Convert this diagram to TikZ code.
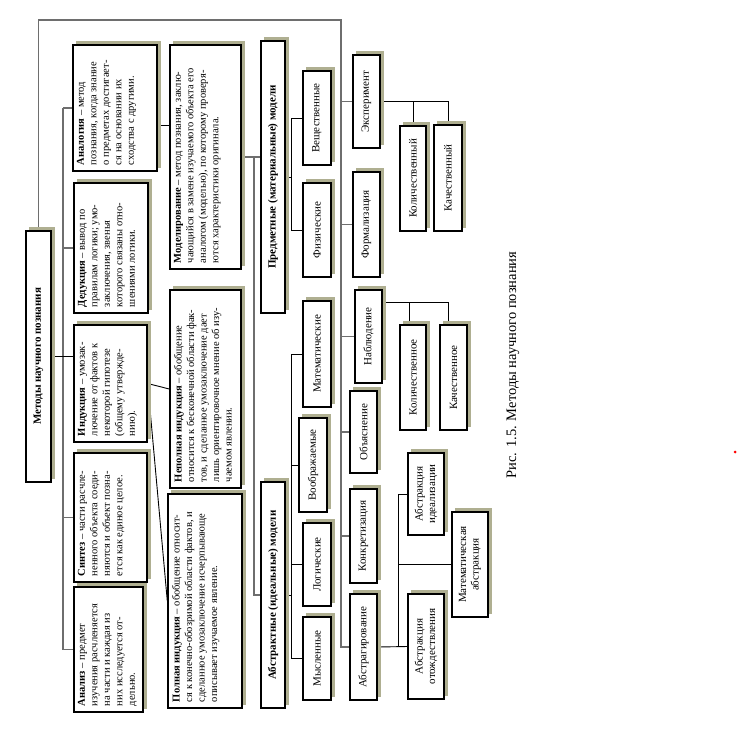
\documentclass[tikz,border=0pt]{standalone}
\usepackage{fontspec}
\setmainfont{Liberation Serif}
\usetikzlibrary{backgrounds,calc}
\definecolor{shcol}{RGB}{175,175,145}
\definecolor{lncol}{RGB}{110,110,110}
\newcommand{\bx}[3]{\parbox[c][#2pt][t]{#1pt}{\raggedright #3}}
\tikzset{
  sz/.style n args={2}{minimum width=#1pt, minimum height=#2pt},
  basebox/.style={draw, line width=1.4pt, fill=white, rotate=90},
  tbox/.style={basebox, inner xsep=6pt, inner ysep=4pt, font=\fontsize{10.5}{12.5}\selectfont},
  lbox/.style={basebox, inner sep=0pt, align=center, font=\fontsize{11}{12.5}\selectfont},
  hbox/.style={basebox, inner sep=0pt, font=\bfseries\fontsize{11}{13}\selectfont},
  conn/.style={draw=black, line width=0.9pt},
  gconn/.style={draw=lncol, line width=1.3pt},
  shadowfill/.style={fill=shcol},
}
\begin{document}
\begin{tikzpicture}[x=1pt,y=1pt]
\useasboundingbox (0,0) rectangle (741,-729);

% main
\node[hbox, sz={251}{25}] (main) at (38.5,-356.5) {Методы научного познания};

% first column
\node[tbox] (analog) at (115,-108) {\bx{114}{76}{\textbf{Аналогия} – метод\\ познания, когда знание\\ о предметах достигает-\\ ся на основании их\\ сходства с другими.}};
\node[tbox] (dedukt) at (111,-248) {\bx{118}{66}{\textbf{Дедукция} – вывод по\\ правилам логики; умо-\\ заключения, звенья\\ которого связаны отно-\\ шениями логики.}};
\node[tbox] (indukt) at (110.5,-383.5) {\bx{105}{65}{\textbf{Индукция} – умозак-\\ лючение от фактов к\\ некоторой гипотезе\\ (общему утвержде-\\ нию).}};
\node[tbox] (sintez) at (110.5,-517.5) {\bx{117}{65}{\textbf{Синтез} – части расчле-\\ ненного объекта соеди-\\ няются и объект позна-\\ ется как единое целое.}};
\node[tbox] (analiz) at (108.5,-649.5) {\bx{113}{61}{\textbf{Анализ} – предмет\\ изучения расчленяется\\ на части и каждая из\\ них исследуется от-\\ дельно.}};

% second column
\node[tbox] (model) at (205.5,-157) {\bx{212}{63}{\textbf{Моделирование} – метод познания, заклю-\\ чающийся в замене изучаемого объекта его\\ аналогом (моделью), по которому проверя-\\ ются характеристики оригинала.}};
\node[tbox] (nepoln) at (205.5,-389) {\bx{186}{63}{\textbf{Неполная индукция} – обобщение\\ относится к бесконечной области фак-\\ тов, и сделанное умозаключение дает\\ лишь ориентировочное мнение об изу-\\ чаемом явлении.}};
\node[tbox] (poln) at (205,-601) {\bx{202}{66}{\textbf{Полная индукция} – обобщение относит-\\ ся к конечно-обозримой области фактов, и\\ сделанное умозаключение исчерпывающе\\ описывает изучаемое явление.}};

% models
\node[hbox, sz={272}{24}] (pred) at (273,-177) {Предметные (материальные) модели};
\node[hbox, sz={226}{24}] (abstr) at (273,-595) {Абстрактные (идеальные) модели};

\node[lbox, sz={94}{28}] (vesch) at (317,-118) {Вещественные};
\node[lbox, sz={94}{28}] (fiz) at (317,-230) {Физические};
\node[lbox, sz={106}{28}] (matem) at (317,-354) {Математические};
\node[lbox, sz={94}{28}] (voobr) at (313,-465) {Воображаемые};
\node[lbox, sz={83}{28}] (logich) at (317,-564.5) {Логические};
\node[lbox, sz={83}{28}] (mysl) at (317,-658.5) {Мысленные};

% right column
\node[lbox, sz={93}{27}] (eksp) at (366.5,-101.5) {Эксперимент};
\node[lbox, sz={105}{27}] (formal) at (366.5,-224.5) {Формализация};
\node[lbox, sz={93}{27}] (nabl) at (368.5,-336.5) {Наблюдение};
\node[lbox, sz={82}{27}] (obyas) at (363.5,-432) {Объяснение};
\node[lbox, sz={94}{27}] (konkr) at (363.5,-536) {Конкретизация};
\node[lbox, sz={106}{27}] (abstrag) at (363.5,-647) {Абстрагирование};

\node[lbox, sz={105}{26}] (kol1) at (413,-178.5) {Количественный};
\node[lbox, sz={106}{28}] (kach1) at (448,-178) {Качественный};
\node[lbox, sz={105}{26}] (kol2) at (413,-377.5) {Количественное};
\node[lbox, sz={105}{27}] (kach2) at (453.5,-377.5) {Качественное};

\node[lbox, sz={105}{36}] (otozh) at (426,-646.5) {Абстракция\\ отождествления};
\node[lbox, sz={82}{36}] (ideal) at (426,-494) {Абстракция\\ идеализации};
\node[lbox, sz={105}{36}] (mabs) at (470,-564.5) {Математическая\\ абстракция};

% caption
\node[rotate=90, font=\fontsize{14.5}{17}\selectfont] (cap) at (513,-365) {Рис. 1.5. Методы научного познания};
\node[circle, fill=red, inner sep=0pt, minimum size=3pt] (dot) at (735,-452) {};

\begin{pgfonlayer}{background}
% top line and right bus
\coordinate (bR) at (341,-20);
\draw[gconn] (main.east) |- (bR) -- (bR |- abstrag.north) -- (abstrag.north);
\foreach \n in {eksp,formal,nabl,obyas,konkr}
  \draw[gconn] (bR |- \n.north) -- (\n.north);
% left bus
\coordinate (bL) at (63,0);
\draw[gconn] (bL |- analog.north) -- (bL |- analiz.north);
\foreach \n in {analog,dedukt,sintez,analiz}
  \draw[gconn] (bL |- \n.north) -- (\n.north);
\draw[conn] (main.south) -- (main.south -| indukt.north);
% analogy -> modelling
\path (analog.south) ++(0,-17) coordinate (a1);
\draw[conn] (a1) -- (a1 -| model.north);
% induction
\draw[conn] (indukt.south) -- (nepoln.north);
\draw[conn] (indukt.south) -- (poln.north);
% models bus
\coordinate (bM) at (254,0);
\draw[gconn] (model.south) -- (model.south -| pred.north);
\draw[gconn] (bM |- model.south) -- (bM |- abstr.north) -- (abstr.north);
% model subtypes
\coordinate (bP) at (291,0);
\draw[conn] (pred.south) -- (bP |- pred.south);
\draw[conn] (bP |- vesch.north) -- (bP |- fiz.north);
\foreach \n in {vesch,fiz}
  \draw[conn] (bP |- \n.north) -- (\n.north);
\draw[conn] (abstr.south) -- (bP |- abstr.south);
\draw[conn] (bP |- matem.north) -- (bP |- mysl.north);
\foreach \n in {matem,voobr,logich,mysl}
  \draw[conn] (bP |- \n.north) -- (\n.north);
% experiment
\draw[conn] (eksp.south) -| (kach1.east);
\draw[conn] (kol1.east) -- (kol1.east |- eksp.south);
% observation
\path (nabl.south) ++(0,34.5) coordinate (n1);
\path (kol2.east) ++(-4,0) coordinate (k2a);
\path (kach2.east) ++(-5.5,0) coordinate (k2b);
\draw[conn] (n1) -| (k2b);
\draw[conn] (k2a) -- (k2a |- n1);
% abstraction
\draw[conn] (abstrag.south) -- (otozh.north);
\path (abstrag.south) ++(21,0) coordinate (j);
\draw[conn] (j) |- (ideal.north);
\draw[conn] (j |- mabs.north) -- (mabs.north);
% shadows (image top and right)
\foreach \n in {main,analog,dedukt,indukt,sintez,analiz,model,nepoln,poln,pred,abstr,
  vesch,fiz,matem,voobr,logich,mysl,eksp,formal,nabl,obyas,konkr,abstrag,
  kol1,kach1,kol2,kach2,otozh,ideal,mabs}
  \fill[shadowfill] ($(\n.north west)+(3.5,3.5)$) rectangle ($(\n.south east)+(3.5,3.5)$);
\end{pgfonlayer}
\end{tikzpicture}
\end{document}
